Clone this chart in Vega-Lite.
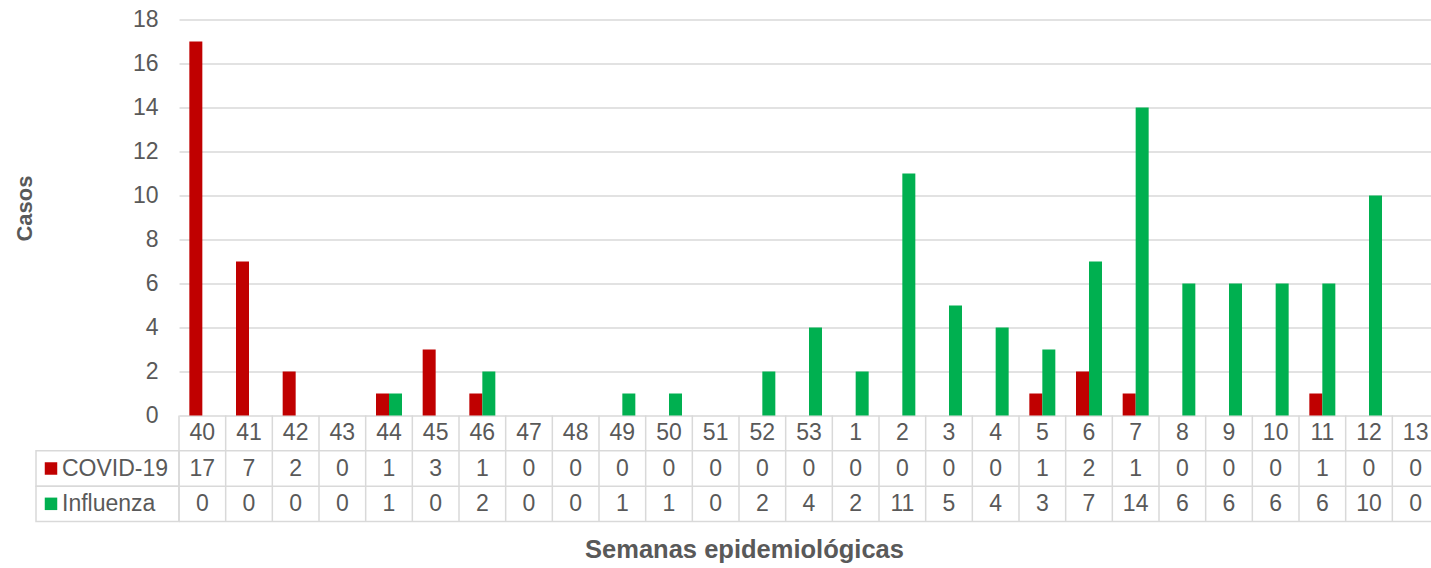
{
  "$schema": "https://vega.github.io/schema/vega-lite/v6.json",
  "autosize": {"type": "pad"},
  "padding": {"left": 13, "top": 8.5, "right": 0, "bottom": 5},
  "background": "white",
  "config": {"view": {"stroke": null}, "font": "Liberation Sans"},
  "datasets": {
    "cases": [
      {"week": "40", "series": "COVID-19", "value": 17}, {"week": "40", "series": "Influenza", "value": 0},
      {"week": "41", "series": "COVID-19", "value": 7}, {"week": "41", "series": "Influenza", "value": 0},
      {"week": "42", "series": "COVID-19", "value": 2}, {"week": "42", "series": "Influenza", "value": 0},
      {"week": "43", "series": "COVID-19", "value": 0}, {"week": "43", "series": "Influenza", "value": 0},
      {"week": "44", "series": "COVID-19", "value": 1}, {"week": "44", "series": "Influenza", "value": 1},
      {"week": "45", "series": "COVID-19", "value": 3}, {"week": "45", "series": "Influenza", "value": 0},
      {"week": "46", "series": "COVID-19", "value": 1}, {"week": "46", "series": "Influenza", "value": 2},
      {"week": "47", "series": "COVID-19", "value": 0}, {"week": "47", "series": "Influenza", "value": 0},
      {"week": "48", "series": "COVID-19", "value": 0}, {"week": "48", "series": "Influenza", "value": 0},
      {"week": "49", "series": "COVID-19", "value": 0}, {"week": "49", "series": "Influenza", "value": 1},
      {"week": "50", "series": "COVID-19", "value": 0}, {"week": "50", "series": "Influenza", "value": 1},
      {"week": "51", "series": "COVID-19", "value": 0}, {"week": "51", "series": "Influenza", "value": 0},
      {"week": "52", "series": "COVID-19", "value": 0}, {"week": "52", "series": "Influenza", "value": 2},
      {"week": "53", "series": "COVID-19", "value": 0}, {"week": "53", "series": "Influenza", "value": 4},
      {"week": "1", "series": "COVID-19", "value": 0}, {"week": "1", "series": "Influenza", "value": 2},
      {"week": "2", "series": "COVID-19", "value": 0}, {"week": "2", "series": "Influenza", "value": 11},
      {"week": "3", "series": "COVID-19", "value": 0}, {"week": "3", "series": "Influenza", "value": 5},
      {"week": "4", "series": "COVID-19", "value": 0}, {"week": "4", "series": "Influenza", "value": 4},
      {"week": "5", "series": "COVID-19", "value": 1}, {"week": "5", "series": "Influenza", "value": 3},
      {"week": "6", "series": "COVID-19", "value": 2}, {"week": "6", "series": "Influenza", "value": 7},
      {"week": "7", "series": "COVID-19", "value": 1}, {"week": "7", "series": "Influenza", "value": 14},
      {"week": "8", "series": "COVID-19", "value": 0}, {"week": "8", "series": "Influenza", "value": 6},
      {"week": "9", "series": "COVID-19", "value": 0}, {"week": "9", "series": "Influenza", "value": 6},
      {"week": "10", "series": "COVID-19", "value": 0}, {"week": "10", "series": "Influenza", "value": 6},
      {"week": "11", "series": "COVID-19", "value": 1}, {"week": "11", "series": "Influenza", "value": 6},
      {"week": "12", "series": "COVID-19", "value": 0}, {"week": "12", "series": "Influenza", "value": 10},
      {"week": "13", "series": "COVID-19", "value": 0}, {"week": "13", "series": "Influenza", "value": 0}
    ],
    "rows": [{"row": "Semana"}, {"row": "COVID-19"}, {"row": "Influenza"}],
    "series": [{"series": "COVID-19"}, {"series": "Influenza"}]
  },
  "columns": 2,
  "spacing": 0,
  "bounds": "flush",
  "concat": [
    {
      "width": 143, "height": 396,
      "data": {"values": [{"a": 1}]},
      "mark": {"type": "rect", "opacity": 0},
      "encoding": {}
    },
    {
      "width": 1260, "height": 396,
      "data": {"name": "cases"},
      "mark": {"type": "bar"},
      "encoding": {
        "x": {"field": "week", "type": "nominal", "sort": null,
          "scale": {"domain": ["40","41","42","43","44","45","46","47","48","49","50","51","52","53","1","2","3","4","5","6","7","8","9","10","11","12","13"], "paddingInner": 0.443, "paddingOuter": 0.2215},
          "axis": null},
        "xOffset": {"field": "series", "type": "nominal", "scale": {"domain": ["COVID-19", "Influenza"], "paddingInner": 0, "paddingOuter": 0}},
        "y": {"field": "value", "type": "quantitative",
          "scale": {"domain": [0, 18], "nice": false},
          "axis": {"values": [0,2,4,6,8,10,12,14,16,18], "title": "Casos", "grid": true, "gridColor": "#d9d9d9", "gridWidth": 1.5,
            "domain": false, "ticks": false, "labelFontSize": 23, "labelColor": "#595959", "labelPadding": 21, "labelFont": "Liberation Sans",
            "titleFontSize": 22, "titleFontWeight": "bold", "titleColor": "#595959", "titleFont": "Liberation Sans",
            "titleX": -154.7, "titleY": 188.5, "titleAngle": -90, "titleAlign": "center", "titleBaseline": "middle"}},
        "color": {"field": "series", "type": "nominal", "scale": {"domain": ["COVID-19", "Influenza"], "range": ["#C00000", "#00B050"]}, "legend": null}
      }
    },
    {
      "width": 143, "height": 106,
      "data": {"name": "series"},
      "encoding": {
        "y": {"field": "series", "type": "nominal", "scale": {"domain": ["Semana", "COVID-19", "Influenza"], "paddingInner": 0, "paddingOuter": 0}, "axis": null}
      },
      "layer": [
        {"mark": {"type": "rect", "fill": "white", "stroke": "#d9d9d9", "strokeWidth": 1.5}},
        {"mark": {"type": "point", "shape": "square", "filled": true, "size": 156, "opacity": 1, "xOffset": -56.5},
          "encoding": {"color": {"field": "series", "type": "nominal", "scale": {"domain": ["COVID-19", "Influenza"], "range": ["#C00000", "#00B050"]}, "legend": null}}},
        {"mark": {"type": "text", "align": "left", "baseline": "middle", "dx": -45.5, "fontSize": 23, "color": "#595959", "font": "Liberation Sans"},
          "encoding": {"text": {"field": "series", "type": "nominal"}}}
      ]
    },
    {
      "width": 1260, "height": 106,
      "encoding": {
        "x": {"field": "week", "type": "nominal", "sort": null,
          "scale": {"domain": ["40","41","42","43","44","45","46","47","48","49","50","51","52","53","1","2","3","4","5","6","7","8","9","10","11","12","13"], "paddingInner": 0, "paddingOuter": 0},
          "axis": {"labels": false, "ticks": false, "domain": false, "grid": false, "title": "Semanas epidemiológicas",
            "titleFontSize": 25.5, "titleFontWeight": "bold", "titleColor": "#595959", "titleFont": "Liberation Sans",
            "titleX": 565, "titleY": 28, "titleAlign": "center", "titleBaseline": "middle"}}
      },
      "layer": [
        {"data": {"name": "cases"}, "transform": [{"filter": "datum.series == 'COVID-19'"}],
          "mark": {"type": "rule", "color": "#d9d9d9", "strokeWidth": 1.5},
          "encoding": {"x": {"field": "week", "type": "nominal", "sort": null, "bandPosition": 0}}},
        {"data": {"name": "rows"},
          "mark": {"type": "rule", "color": "#d9d9d9", "strokeWidth": 1.5},
          "encoding": {"x": null, "y": {"field": "row", "type": "nominal", "bandPosition": 1, "scale": {"domain": ["Semana", "COVID-19", "Influenza"], "paddingInner": 0, "paddingOuter": 0}, "axis": null}}},
        {"data": {"name": "cases"}, "transform": [{"filter": "datum.series == 'COVID-19'"}],
          "mark": {"type": "text", "fontSize": 23, "color": "#595959", "baseline": "middle", "font": "Liberation Sans"},
          "encoding": {"y": {"datum": "Semana", "type": "nominal"}, "text": {"field": "week", "type": "nominal"}}},
        {"data": {"name": "cases"},
          "mark": {"type": "text", "fontSize": 23, "color": "#595959", "baseline": "middle", "font": "Liberation Sans"},
          "encoding": {"y": {"field": "series", "type": "nominal"}, "text": {"field": "value", "type": "quantitative"}}}
      ]
    }
  ]
}
